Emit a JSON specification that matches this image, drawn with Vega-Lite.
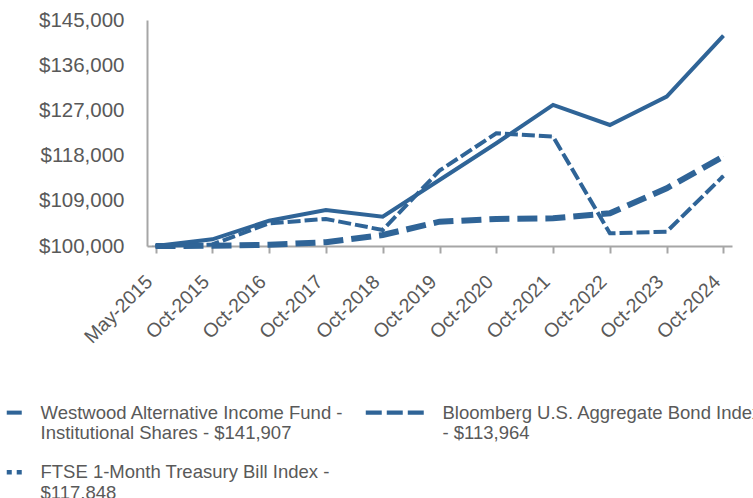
{
  "$schema": "https://vega.github.io/schema/vega-lite/v6.json",
  "width": 585,
  "height": 226,
  "autosize": {"type": "none"},
  "padding": {"left": 147, "top": 20, "right": 21, "bottom": 252},
  "background": "white",
  "config": {"view": {"stroke": null}, "font": "Liberation Sans"},
  "data": {
    "values": [
      {"date": "May-2015", "series": "Westwood Alternative Income Fund -|Institutional Shares - $141,907", "value": 100000},
      {"date": "Oct-2015", "series": "Westwood Alternative Income Fund -|Institutional Shares - $141,907", "value": 101330},
      {"date": "Oct-2016", "series": "Westwood Alternative Income Fund -|Institutional Shares - $141,907", "value": 105040},
      {"date": "Oct-2017", "series": "Westwood Alternative Income Fund -|Institutional Shares - $141,907", "value": 107170},
      {"date": "Oct-2018", "series": "Westwood Alternative Income Fund -|Institutional Shares - $141,907", "value": 105840},
      {"date": "Oct-2019", "series": "Westwood Alternative Income Fund -|Institutional Shares - $141,907", "value": 113150},
      {"date": "Oct-2020", "series": "Westwood Alternative Income Fund -|Institutional Shares - $141,907", "value": 120450},
      {"date": "Oct-2021", "series": "Westwood Alternative Income Fund -|Institutional Shares - $141,907", "value": 128090},
      {"date": "Oct-2022", "series": "Westwood Alternative Income Fund -|Institutional Shares - $141,907", "value": 124100},
      {"date": "Oct-2023", "series": "Westwood Alternative Income Fund -|Institutional Shares - $141,907", "value": 129740},
      {"date": "Oct-2024", "series": "Westwood Alternative Income Fund -|Institutional Shares - $141,907", "value": 141907},
      {"date": "May-2015", "series": "Bloomberg U.S. Aggregate Bond Index|- $113,964", "value": 100000},
      {"date": "Oct-2015", "series": "Bloomberg U.S. Aggregate Bond Index|- $113,964", "value": 100300},
      {"date": "Oct-2016", "series": "Bloomberg U.S. Aggregate Bond Index|- $113,964", "value": 104520},
      {"date": "Oct-2017", "series": "Bloomberg U.S. Aggregate Bond Index|- $113,964", "value": 105380},
      {"date": "Oct-2018", "series": "Bloomberg U.S. Aggregate Bond Index|- $113,964", "value": 103190},
      {"date": "Oct-2019", "series": "Bloomberg U.S. Aggregate Bond Index|- $113,964", "value": 115000},
      {"date": "Oct-2020", "series": "Bloomberg U.S. Aggregate Bond Index|- $113,964", "value": 122450},
      {"date": "Oct-2021", "series": "Bloomberg U.S. Aggregate Bond Index|- $113,964", "value": 121770},
      {"date": "Oct-2022", "series": "Bloomberg U.S. Aggregate Bond Index|- $113,964", "value": 102530},
      {"date": "Oct-2023", "series": "Bloomberg U.S. Aggregate Bond Index|- $113,964", "value": 102850},
      {"date": "Oct-2024", "series": "Bloomberg U.S. Aggregate Bond Index|- $113,964", "value": 113964},
      {"date": "May-2015", "series": "FTSE 1-Month Treasury Bill Index -|$117,848", "value": 100000},
      {"date": "Oct-2015", "series": "FTSE 1-Month Treasury Bill Index -|$117,848", "value": 100030},
      {"date": "Oct-2016", "series": "FTSE 1-Month Treasury Bill Index -|$117,848", "value": 100250},
      {"date": "Oct-2017", "series": "FTSE 1-Month Treasury Bill Index -|$117,848", "value": 100750},
      {"date": "Oct-2018", "series": "FTSE 1-Month Treasury Bill Index -|$117,848", "value": 102190},
      {"date": "Oct-2019", "series": "FTSE 1-Month Treasury Bill Index -|$117,848", "value": 104840},
      {"date": "Oct-2020", "series": "FTSE 1-Month Treasury Bill Index -|$117,848", "value": 105380},
      {"date": "Oct-2021", "series": "FTSE 1-Month Treasury Bill Index -|$117,848", "value": 105510},
      {"date": "Oct-2022", "series": "FTSE 1-Month Treasury Bill Index -|$117,848", "value": 106510},
      {"date": "Oct-2023", "series": "FTSE 1-Month Treasury Bill Index -|$117,848", "value": 111490},
      {"date": "Oct-2024", "series": "FTSE 1-Month Treasury Bill Index -|$117,848", "value": 117848}
    ]
  },
  "encoding": {
    "x": {
      "field": "date", "type": "ordinal", "sort": null,
      "scale": {"type": "point", "padding": 0.15},
      "axis": {
        "title": null, "labelAngle": -45, "labelFontSize": 19.5, "labelColor": "#595959",
        "labelFont": "Liberation Sans", "domainColor": "#A6A6A6", "domainWidth": 2,
        "tickColor": "#A6A6A6", "tickWidth": 2, "tickSize": 7, "labelPadding": 19, "labelOffset": -13, "grid": false
      }
    },
    "y": {
      "field": "value", "type": "quantitative",
      "scale": {"domain": [100000, 145000], "nice": false, "zero": false},
      "axis": {
        "title": null, "values": [100000, 109000, 118000, 127000, 136000, 145000],
        "format": "$,.0f", "labelFontSize": 20.5, "labelColor": "#595959", "labelFont": "Liberation Sans",
        "ticks": false, "labelPadding": 23, "domainColor": "#A6A6A6", "domainWidth": 2, "grid": false
      }
    }
  },
  "layer": [
    {
      "mark": {"type": "point", "filled": true, "color": "#2F6497", "size": 1},
      "encoding": {
        "shape": {
          "field": "series", "type": "nominal",
          "scale": {
            "domain": ["Westwood Alternative Income Fund -|Institutional Shares - $141,907", "Bloomberg U.S. Aggregate Bond Index|- $113,964", "FTSE 1-Month Treasury Bill Index -|$117,848"],
            "range": [
              "M-1,-0.27H1V0.27H-1Z",
              "M-6.73,-0.27H-4.6V0.27H-6.73Z M-3.93,-0.27H-1.8V0.27H-3.93Z M-1.13,-0.27H1V0.27H-1.13Z",
              "M-1,-0.3H-0.33V0.3H-1Z M0.33,-0.3H1V0.3H0.33Z"
            ]
          },
          "legend": {
            "orient": "none", "direction": "horizontal", "legendX": -142, "legendY": 383, "columns": 2, "columnPadding": 21, "rowPadding": 20,
            "title": null, "symbolSize": 225, "symbolStrokeWidth": 0, "symbolFillColor": "#2F6497", "symbolOpacity": 1,
            "labelFontSize": 18.5, "labelColor": "#595959", "labelFont": "Liberation Sans", "labelLimit": 500, "labelOffset": 17,
            "labelExpr": "split(datum.label, '|')"
          }
        }
      }
    },
    {
      "transform": [{"filter": {"field": "series", "equal": "FTSE 1-Month Treasury Bill Index -|$117,848"}}],
      "mark": {"type": "line", "color": "#2F6497", "strokeWidth": 6, "strokeDash": [20, 8], "strokeCap": "butt", "strokeJoin": "miter"},
      "encoding": {}
    },
    {
      "transform": [{"filter": {"field": "series", "equal": "Bloomberg U.S. Aggregate Bond Index|- $113,964"}}],
      "mark": {"type": "line", "color": "#2F6497", "strokeWidth": 4, "strokeDash": [13, 4], "strokeCap": "butt", "strokeJoin": "miter"},
      "encoding": {}
    },
    {
      "transform": [{"filter": {"field": "series", "equal": "Westwood Alternative Income Fund -|Institutional Shares - $141,907"}}],
      "mark": {"type": "line", "color": "#2F6497", "strokeWidth": 4, "strokeCap": "butt", "strokeJoin": "miter"},
      "encoding": {}
    }
  ]
}
